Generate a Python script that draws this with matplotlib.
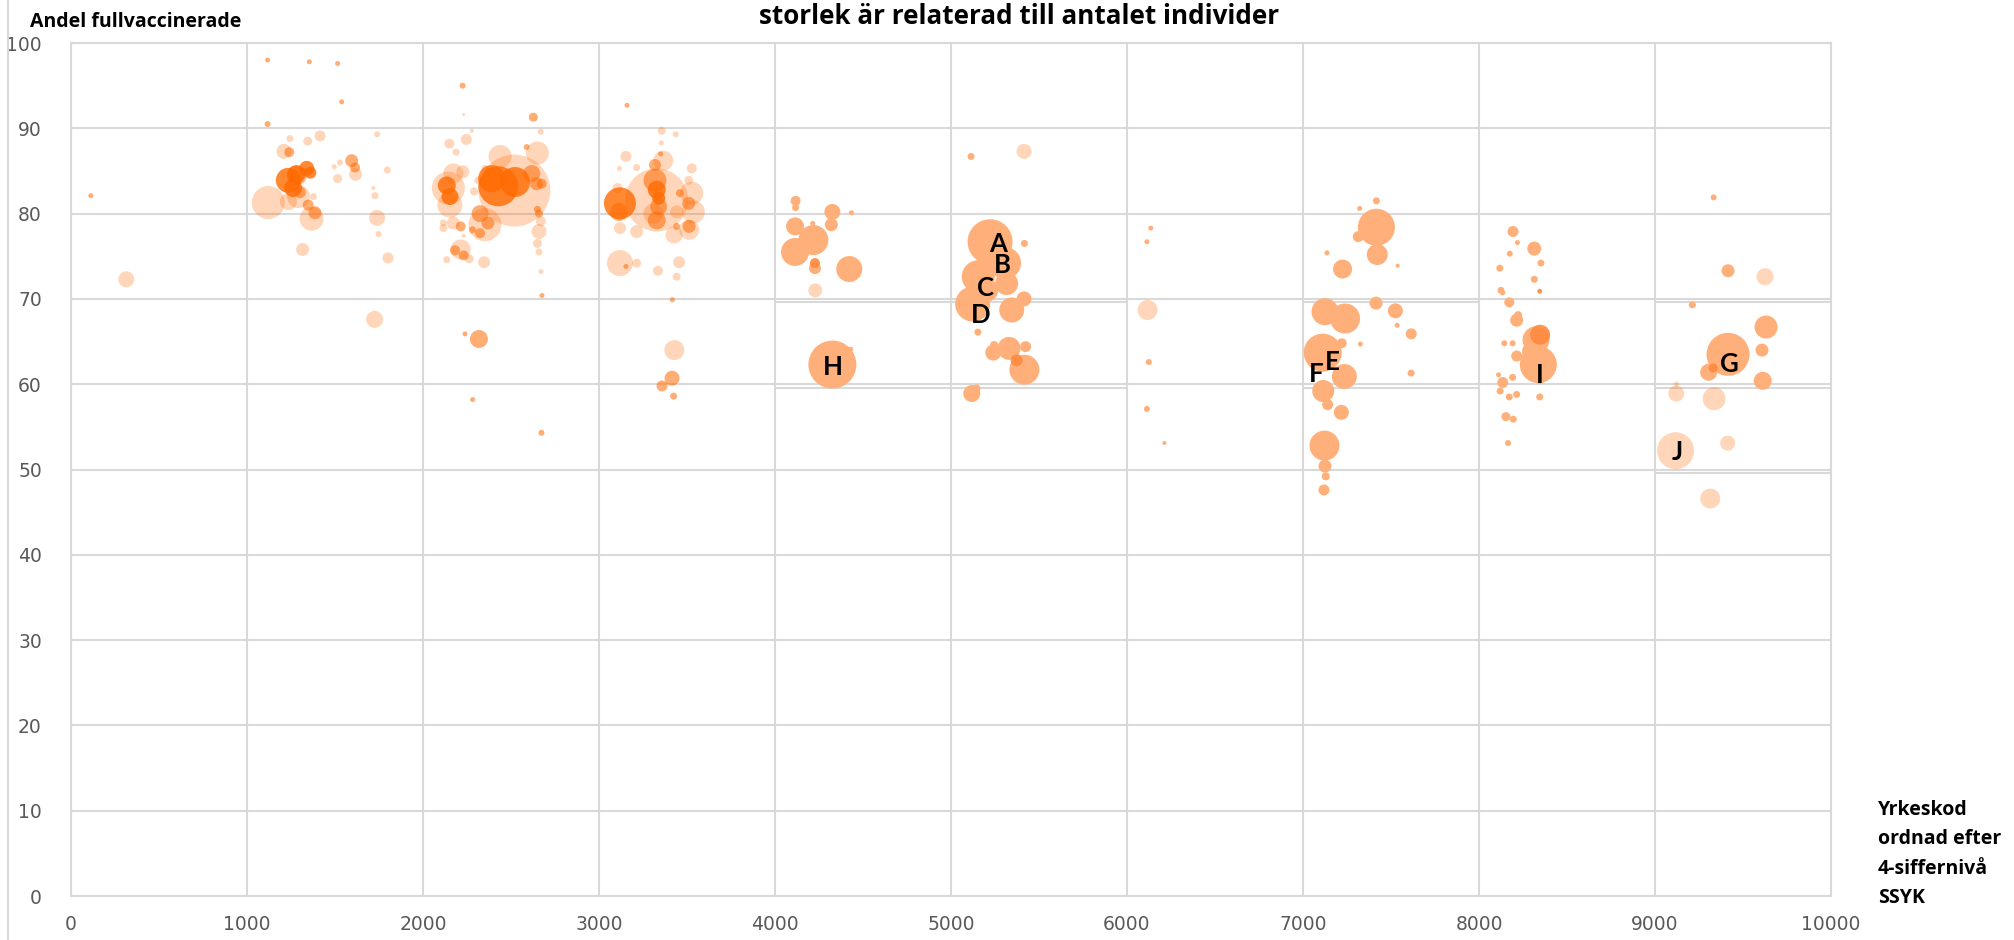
import matplotlib
matplotlib.use("Agg")
import matplotlib.pyplot as plt
from matplotlib.lines import Line2D

# bubble chart: andel fullvaccinerade per yrkeskod (SSYK), bubble width ~ antal individer
# values, bubble sizes are relative widths

# light bubbles
x_ljus = [314, 1244, 1345, 1415, 1739, 1210, 1528, 1496, 1617, 1797, 1515, 1121, 1235, 1292, 1377, 1367,
          1718, 1727, 1739, 1748, 1801, 1316, 1725,
          2231, 2669, 2277, 2150, 2246, 2188, 2438, 2650, 2519, 2144, 2153, 2172, 2226, 2352, 2315, 2290,
          2352, 2172, 2116, 2116, 2231, 2214, 2263, 2135, 2347, 2669, 2659, 2650, 2659, 2670,
          3356, 3436, 3354, 3153, 3116, 3214, 3365, 3527, 3510, 3328, 3105, 3309, 3527, 3536, 3441, 3512,
          3426, 3214, 3119, 3119, 3214, 3335, 3455, 3441, 3428,
          4229, 5415, 6117, 9625, 9121, 9121, 9336, 9413, 9117, 9314]
y_ljus = [72.3, 88.8, 88.5, 89.1, 89.3, 87.3, 86.0, 85.5, 84.6, 85.1, 84.1, 81.3, 81.4, 82.0, 82.0, 79.4,
          83.0, 82.1, 79.5, 77.6, 74.8, 75.8, 67.6,
          91.6, 89.6, 89.7, 88.2, 88.7, 87.2, 86.7, 87.1, 82.7, 83.0, 81.0, 84.7, 84.9, 85.3, 83.9, 82.6,
          78.7, 78.9, 78.9, 78.3, 77.4, 75.8, 74.7, 74.6, 74.3, 79.1, 77.9, 76.5, 75.5, 73.2,
          89.7, 89.3, 88.3, 86.7, 85.3, 85.4, 86.2, 85.3, 83.9, 81.6, 83.0, 80.0, 82.4, 80.2, 80.2, 78.1,
          77.5, 77.9, 78.3, 74.2, 74.2, 73.3, 74.3, 72.6, 64.0,
          71.0, 87.3, 68.7, 72.6, 60.0, 58.9, 58.3, 53.1, 52.2, 46.6]
s_ljus = [16, 7, 9, 11, 6, 15, 6, 5, 13, 7, 9, 33, 17, 23, 7, 24,
          4, 7, 16, 6, 11, 13, 17,
          3, 6, 4, 10, 11, 7, 23, 23, 72, 33, 25, 20, 13, 7, 8, 8,
          33, 13, 7, 8, 4, 20, 9, 7, 12, 10, 15, 9, 7, 5,
          8, 6, 5, 11, 5, 7, 20, 10, 9, 63, 10, 20, 23, 23, 13, 20,
          17, 13, 12, 26, 9, 10, 12, 8, 20,
          14, 15, 20, 17, 5, 16, 23, 15, 37, 20]

# medium bubbles
x_mellan = [113, 1117, 1354, 1515, 1538, 1117, 1240, 1595, 1614, 1282, 1348, 1386, 1300,
            2225, 2627, 2589, 2618, 2645, 2674, 2324, 2369, 2324, 2281, 2214, 2182, 2231, 2650, 2659, 2676,
            2239, 2318, 2282, 2673,
            3159, 3350, 3318, 3114, 3318, 3339, 3328, 3510, 3460, 3512, 3441, 3153, 3417, 3415, 3358, 3424]
y_mellan = [82.1, 98.0, 97.8, 97.6, 93.1, 90.5, 87.2, 86.2, 85.4, 84.5, 81.0, 80.1, 82.5,
            95.0, 91.3, 87.8, 84.7, 83.5, 83.5, 80.0, 78.9, 77.7, 78.1, 78.5, 75.7, 75.1, 80.5, 80.0, 70.4,
            65.9, 65.3, 58.2, 54.3,
            92.7, 87.0, 85.7, 80.2, 83.9, 80.8, 79.2, 81.2, 82.4, 78.5, 78.5, 73.8, 69.9, 60.7, 59.8, 58.6]
s_mellan = [5, 5, 5, 5, 5, 6, 10, 13, 10, 20, 11, 13, 12,
            6, 9, 6, 17, 13, 10, 17, 13, 10, 7, 10, 10, 10, 7, 8, 5,
            5, 18, 5, 6,
            5, 5, 12, 18, 23, 17, 18, 13, 8, 13, 7, 5, 5, 15, 11, 7]

# dark bubbles
x_mork = [1235, 1262, 1280, 1339, 1360, 2428, 2523, 2390, 2135, 2153, 3119, 3328, 3339]
y_mork = [83.9, 83.0, 84.6, 85.3, 84.8, 83.2, 83.7, 84.1, 83.3, 82.0, 81.2, 82.8, 81.8]
s_mork = [25, 18, 18, 15, 12, 40, 30, 27, 18, 17, 32, 18, 13]

# filled bubbles, codes 4000-9999
x_fylld = [4117, 4117, 4326, 4434, 4114, 4320, 4214, 4218, 4114, 4227, 4422, 4326, 4430,
           5114, 5222, 5417, 5307, 5155, 5202, 5316, 5123, 5415, 5345, 5153, 5240, 5245, 5330, 5424, 5417,
           5118, 5145,
           6135, 6113, 6124, 6113, 6212,
           7417, 7322, 7417, 7314, 7422, 7136, 7225, 7538, 7125, 7239, 7415, 7525, 7535, 7615, 7326, 7614,
           7112, 7220, 7235, 7115, 7140, 7218, 7122, 7125, 7129, 7119,
           8193, 8218, 8314, 8175, 8352, 8118, 8314, 8125, 8134, 8172, 8214, 8222, 8144, 8191, 8214, 8324,
           8337, 8310, 8111, 8191, 8135, 8120, 8172, 8214, 8345, 8345, 8153, 8195, 8165,
           9333, 9415, 9212, 9415, 9631, 9608, 9612, 9305]
y_fylld = [81.5, 80.7, 80.2, 80.1, 78.5, 78.7, 78.85, 76.9, 75.5, 73.6, 73.5, 62.3, 64.1,
           86.7, 76.7, 76.5, 74.2, 72.6, 71.0, 71.8, 69.4, 70.0, 68.7, 66.1, 63.7, 64.6, 64.2, 64.4, 61.7,
           58.9, 59.5,
           78.3, 76.7, 62.6, 57.1, 53.1,
           81.5, 80.6, 78.4, 77.3, 75.2, 75.4, 73.5, 73.9, 68.5, 67.7, 69.5, 68.6, 66.9, 65.9, 64.7, 61.3,
           63.7, 64.8, 60.9, 59.2, 57.6, 56.7, 52.8, 50.4, 49.2, 47.6,
           77.9, 76.6, 75.9, 75.3, 74.2, 73.6, 72.3, 71.0, 70.7, 69.6, 67.5, 68.1, 64.8, 64.8, 63.3, 65.2,
           62.3, 63.8, 61.1, 60.8, 60.2, 59.2, 58.5, 58.8, 60.6, 58.5, 56.2, 55.9, 53.1,
           81.9, 73.3, 69.3, 63.5, 66.7, 64.0, 60.4, 61.4]
s_fylld = [10, 7, 16, 5, 18, 13, 5, 30, 28, 12, 26, 48, 5,
           7, 45, 7, 32, 33, 23, 23, 35, 15, 25, 7, 16, 8, 23, 11, 30,
           17, 8,
           5, 5, 6, 6, 4,
           7, 5, 37, 11, 21, 5, 19, 4, 27, 30, 13, 15, 5, 11, 5, 7,
           38, 10, 25, 22, 11, 15, 30, 13, 8, 11,
           11, 5, 14, 6, 7, 7, 7, 7, 5, 10, 13, 8, 6, 6, 11, 27,
           37, 23, 5, 7, 11, 7, 7, 7, 10, 7, 9, 7, 6,
           6, 13, 7, 43, 23, 13, 18, 17]

# darker spots among the filled ones
x_extra = [4227, 5373, 8345, 8347, 9330]
y_extra = [74.2, 62.8, 70.9, 65.8, 61.9]
s_extra = [10, 12, 5, 20, 9]

# letter labels
etiketter = ["A", "B", "C", "D", "H", "E", "F", "I", "G", "J"]
etikett_x = [5265, 5292, 5197, 5168, 4328, 7168, 7073, 8344, 9424, 9125]
etikett_y = [76.4, 74.0, 71.3, 68.1, 62.0, 62.6, 61.2, 61.1, 62.4, 52.0]

# marked ranges (x from, x to, y)
ram_x0 = [4000, 4000, 7000, 7000, 9000, 9000, 9000]
ram_x1 = [6000, 6000, 8000, 8000, 10000, 10000, 10000]
ram_y = [69.6, 59.6, 69.6, 59.6, 69.6, 59.6, 49.6]

titel = "storlek är relaterad till antalet individer"
ylabel = "Andel fullvaccinerade"
xlabel_rader = ["Yrkeskod", "ordnad efter", "4-siffernivå", "SSYK"]

W, H, DPI = 2015, 940, 100
GRID = "#d9d9d9"
ORANGE = "#ff6a00"
BOLD = ["Open Sans", "DejaVu Sans"]

fig = plt.figure(figsize=(W / DPI, H / DPI), dpi=DPI)
ax = fig.add_axes([71 / W, 1 - 896 / H, (1831 - 71) / W, (896 - 43) / H])
ax.set_xlim(0, 10000)
ax.set_ylim(0, 100)
ax.set_xticks(range(0, 10001, 1000))
ax.set_yticks(range(0, 101, 10))
ax.grid(True, color=GRID, lw=1.5, zorder=0)
ax.set_axisbelow(True)
for sp in ax.spines.values():
    sp.set_color(GRID)
    sp.set_linewidth(1.5)
ax.tick_params(length=0, labelsize=13.5, colors="#595959")
ax.tick_params(axis="y", pad=21)
ax.tick_params(axis="x", pad=14)

ax.hlines(ram_y, ram_x0, ram_x1, color=GRID, lw=1.5, zorder=1)


def bubblor(xs, ys, ss, color, alpha):
    # biggest first so small ones stay visible
    order = sorted(range(len(ss)), key=lambda i: -ss[i])
    xs = [xs[i] for i in order]
    ys = [ys[i] for i in order]
    area = [(ss[i] * 0.72) ** 2 for i in order]
    ax.scatter(xs, ys, s=area, color=color, alpha=alpha, linewidths=0, zorder=3)


bubblor(x_ljus, y_ljus, s_ljus, ORANGE, 0.27)
bubblor(x_mellan, y_mellan, s_mellan, ORANGE, 0.55)
bubblor(x_mork, y_mork, s_mork, ORANGE, 0.8)
bubblor(x_fylld, y_fylld, s_fylld, "#ffb07a", 1.0)
bubblor(x_extra, y_extra, s_extra, "#ff8a3d", 0.9)

for t, x, y in zip(etiketter, etikett_x, etikett_y):
    ax.text(x, y, t, fontsize=18.5, fontweight="bold", family=["Lato", "DejaVu Sans"],
            ha="center", va="center", zorder=5)


def passa_bredd(t, bredd_px):
    # scale the font so the text gets the width it has in the reference
    r = fig.canvas.get_renderer()
    w = t.get_window_extent(r).width
    t.set_fontsize(t.get_fontsize() * bredd_px / w)
    return t.get_fontsize()


t = fig.text(1019 / W, 1 - 24 / H, titel, ha="center", va="baseline", fontsize=17,
             fontweight="bold", family=BOLD)
passa_bredd(t, 520)
t = fig.text(30 / W, 1 - 26.7 / H, ylabel, ha="left", va="baseline", fontsize=14.5,
             fontweight="bold", family=BOLD)
passa_bredd(t, 212)

rader = []
for i, rad in enumerate(xlabel_rader):
    rader.append(fig.text(1878 / W, 1 - (815 + i * 29.3) / H, rad, ha="left", va="baseline",
                          fontsize=13.5, fontweight="bold", family=BOLD))
fs = passa_bredd(rader[1], 123)
for t in rader:
    t.set_fontsize(fs)

fig.add_artist(Line2D([8 / W, 8 / W], [0, 1], color=GRID, lw=1.5))

fig.savefig("out.png", dpi=DPI)
